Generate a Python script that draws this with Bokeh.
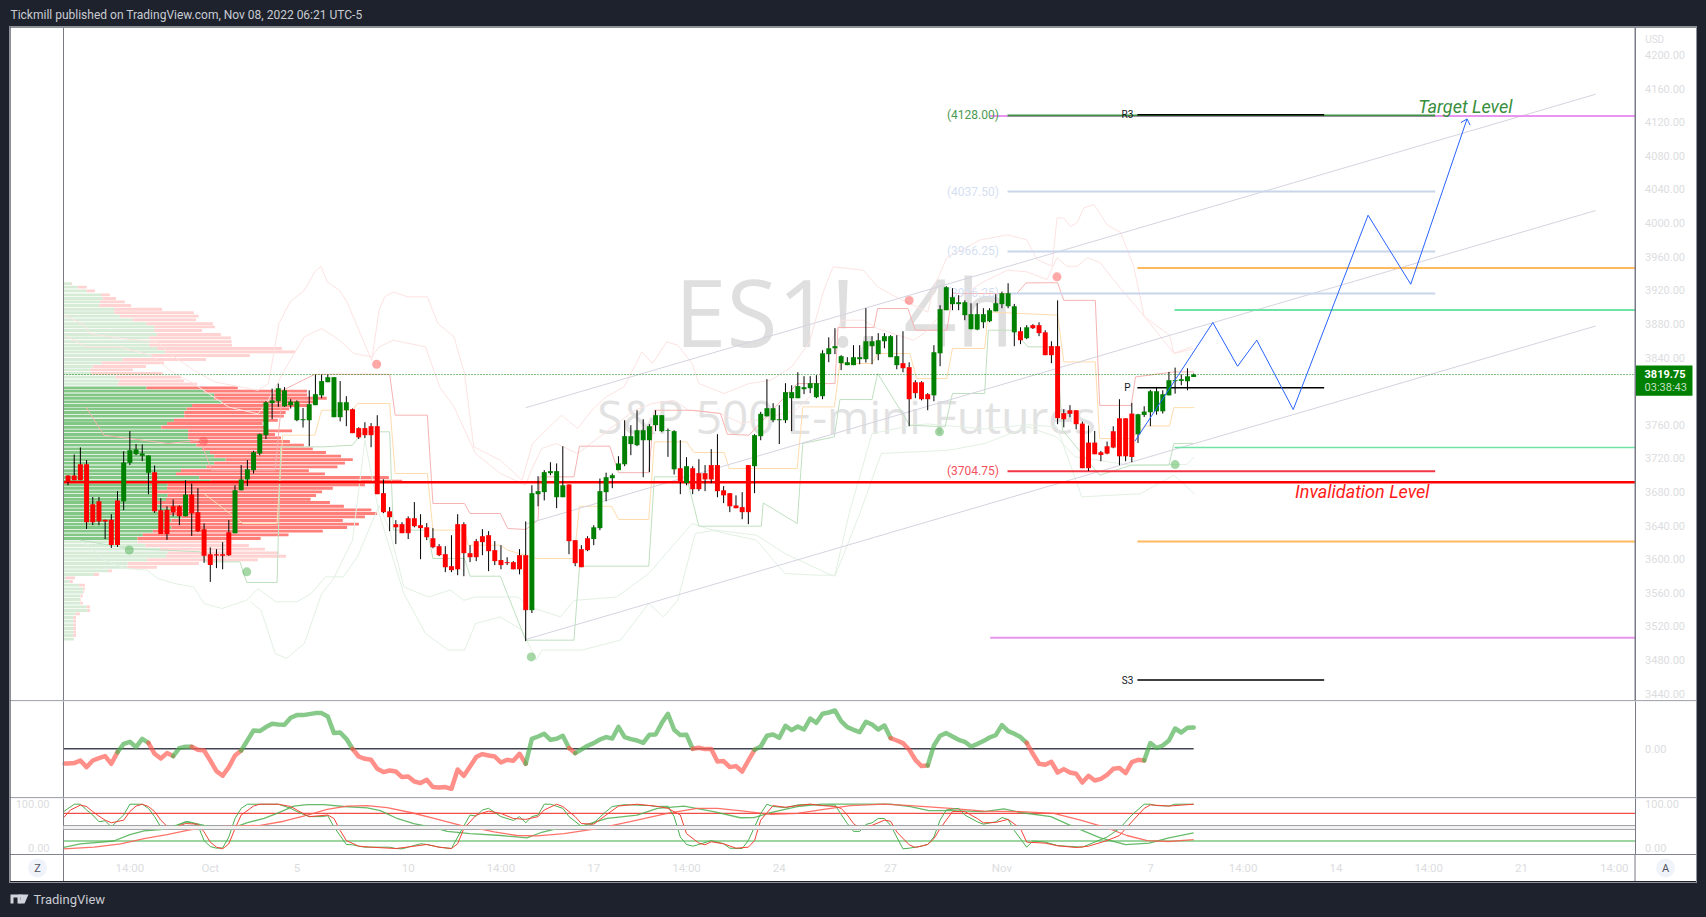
from bokeh.plotting import figure
from bokeh.layouts import column
from bokeh.models import Range1d, LinearAxis, FixedTicker, Span, NumeralTickFormatter, BoxAnnotation
from bokeh.core.properties import value
from bokeh.embed import file_html
from bokeh.resources import INLINE

# ---------- OHLC (4h bars) ----------
open_ = [3699.6,3699.6,3713,3713,3665.5,3669,3647,3647,3670,3669,3714.7,3725,3723,3702.8,3703.6,3658.4,3659,3663,3663,3651,
3677,3656,3635.8,3606,3606,3606,3632,3631,3682,3695,3706,3725.8,3747.6,3785.7,3788,3782,3783.3,3765.4,3765.4,3765.4,
3783.3,3795,3810.6,3769,3769,3777.3,3778.5,3756,3756,3758.3,3758.3,3678.6,3657,3641.7,3641.7,3648.8,3648.8,3640.5,3638,3625,
3615.5,3606,3591.7,3641.7,3641.7,3607.2,3621.5,3627.4,3628.6,3610.8,3599,3596.5,3596.5,3604.8,3604.8,3539.4,3677.4,3679.8,3702.4,3673.8,
3673.8,3689,3622.7,3612,3625,3624,3637,3679.8,3696.4,3706,3713,3737,3735.7,3741.6,3741.6,3759.5,3752.4,3752.7,3707,3708.3,
3690.5,3708.3,3702.4,3702.4,3712,3712,3682,3678.6,3664,3662,3712,3710.7,3746.4,3770,3765.4,3765.4,3765.4,3791.6,3791.6,3802.3,
3803.5,3792.8,3794,3844,3851,3833.3,3830.9,3830.9,3838,3838,3853.5,3844,3859.4,3840.4,3830.9,3833.3,3828.5,3810.6,3810.6,3796.4,
3795,3845,3896.3,3903.5,3903.5,3890.4,3873.7,3873.3,3882,3883.2,3895,3903.5,3901,3870,3871.3,3863,3878.5,3878.5,3870,3853.5,
3853.5,3773.8,3777.3,3777.3,3761.4,3738.8,3738.8,3727.3,3734.4,3752.3,3767.7,3767.7,3773.3,3748.7,3771.7,3774.9,3776,3776,3795,3811.8,
3812.2,3811.8,3816.9]
high = [3700,3724.6,3733,3718,3674,3674,3647,3653.6,3681,3728.5,3752.4,3737,3736.5,3723.4,3711.5,3672.6,3663,3671,3664,3694,
3690,3684.5,3642.5,3614,3612,3620.3,3646.5,3688,3712,3718,3729,3749.6,3788,3803,3809,3804.7,3790.4,3789,3780,3801,
3819.8,3819.8,3819.8,3816.6,3812,3794,3779.3,3757,3763,3762,3771.4,3695,3662,3646.5,3644,3651,3668,3653.6,3643,3637,
3618,3615.5,3628.6,3653.6,3644,3616.7,3624,3635.8,3633.4,3621.5,3616.7,3602.4,3597.7,3612,3645,3688,3698.8,3706,3715.4,3714,
3734.5,3689,3622.7,3616.7,3627.4,3640.5,3696,3703,3702,3722.6,3765.4,3759.5,3777.3,3766.6,3760.7,3777.3,3771.4,3755.5,3753.5,3741.6,
3721.4,3710.7,3719,3712,3731,3748.8,3687,3678.6,3676,3679.8,3712,3748.8,3775.4,3814.2,3785.7,3783.3,3809.5,3807,3822.5,3817.8,
3817.8,3819,3848.7,3864,3874.9,3842.8,3840.4,3854.7,3854.7,3898.7,3865.4,3869,3869,3866.6,3866.6,3871.3,3834.4,3813,3811.8,3797.6,
3854.7,3902.3,3924.9,3922.5,3914.2,3908,3904.6,3904.6,3898.7,3898.7,3915.4,3918.5,3928.4,3903.8,3876,3878.5,3879.7,3882,3872.5,3859.4,
3908,3778.5,3783.3,3777.3,3763.8,3759,3752.7,3728.9,3740,3758.2,3790.4,3767.7,3786,3773,3782,3801.5,3805,3801,3822.9,3828,
3820,3827.2,3820.9]
low = [3688,3694,3694,3636,3640.5,3640.5,3624,3613.5,3614.7,3658.4,3712,3723.8,3716.7,3677.4,3655.2,3630,3623,3651,3640.5,3651,
3627.8,3632.6,3595.7,3573,3589.4,3588,3604,3631,3682,3687,3702,3723.8,3743,3766.6,3781.3,3781.3,3779.3,3764.2,3756.7,3734.5,
3783.3,3791.6,3810.6,3769,3764,3758.3,3750,3743,3744,3733.3,3677.4,3654.8,3633.4,3618,3631,3624,3638,3600,3622.7,3613,
3603.6,3584.6,3584.6,3581,3579.8,3596.5,3597.7,3604.8,3585.8,3593,3588,3593,3588,3582,3502.5,3536,3663,3670,3700,3660.7,
3673.8,3606,3591.7,3590.5,3609.6,3616.7,3634.6,3669,3684.5,3706,3710.7,3723.8,3734.5,3697.6,3703.6,3752.4,3751.2,3721.8,3700.8,3677.4,
3688,3677.4,3681,3681,3690.5,3673.8,3666.7,3656,3660.7,3647.6,3641.7,3678.6,3741.6,3770,3763,3737,3762,3752.4,3791.6,3796.4,
3797.6,3791.6,3790.4,3834.4,3844,3825,3830.9,3830.9,3832,3834,3832,3836.8,3851,3840.4,3826,3822.5,3758.3,3791.6,3789,3777.3,
3788,3829.7,3896.3,3896.3,3896.3,3884.4,3873.7,3872.5,3874.9,3882,3895,3898.7,3898.7,3853.5,3855.9,3861.8,3874,3865.4,3842.8,3833.3,
3760.7,3757,3769,3754.7,3708.3,3705,3724.9,3716.6,3724.9,3732,3711.8,3716.6,3715.4,3738.4,3769.3,3758.2,3772,3773.3,3795,3797,
3807,3801,3816.9]
close = [3692,3694,3694,3644,3644,3645,3645,3617,3617,3715,3729.7,3730.5,3725.8,3723.4,3657.2,3630,3630,3656,3651,3677,
3654.8,3633.4,3604,3593,3604.4,3604,3604.8,3682,3695,3707,3727.4,3748.8,3786.8,3789,3803.5,3801,3787.6,3787.6,3766.6,3784.5,
3796.4,3812,3816.6,3816.6,3786.8,3786.8,3750,3745,3747.6,3747.6,3677.4,3656,3650,3638,3631,3631,3639.3,3637,3626.2,3614.3,
3604.8,3590.5,3587,3588,3607.2,3602.4,3602.4,3620.3,3609.6,3597.7,3593,3595.3,3588,3588,3539.4,3678.6,3681,3703.6,3704.8,3704.8,
3688,3621.5,3595.3,3590.5,3610.8,3638,3681,3697.6,3700,3714,3746.4,3746.4,3753.5,3753.5,3758.3,3771.4,3771.4,3753.5,3752.4,3691.7,
3710.7,3683.3,3683.3,3695,3695,3681,3676,3663,3660.7,3656,3656,3747.6,3773,3779.7,3779.7,3766.6,3798.8,3798.8,3806,3804.7,
3809.5,3809.5,3845,3851,3853.5,3841.6,3834.4,3840.4,3840.4,3859.4,3859.4,3860.6,3865.4,3865.4,3841.6,3827.3,3790.4,3797.6,3790.4,3790.4,
3846.3,3897.5,3923.7,3911.8,3905.8,3905.8,3891.6,3891.6,3891.6,3896.3,3904.6,3916.5,3916.5,3901,3860.6,3876,3874.9,3869,3842.8,3842.8,
3767.8,3766.6,3773,3760.7,3708.3,3708.3,3724.9,3724,3725.7,3732.9,3722.5,3722.5,3721.7,3772.5,3775.7,3799.9,3799.9,3796.3,3813,3813,
3814.2,3817.7,3819.75]
last_price = 3819.75

# ---------- volume profile rows ----------
vp_price = [3928,3923.7,3919.3,3914.6,3910.2,3906.2,3901.9,3897.5,3893.5,3889.2,3884.8,3880.4,3876.5,3872.1,3867.4,3863.4,3859,3854.7,3850.7,3846.7,
3842.4,3837.6,3833.6,3829.3,3825.3,3821,3816.6,3812.2,3808.3,3803.9,3800,3795.6,3791.6,3787.2,3782.9,3778.9,3774.6,3770.2,3765.4,3761.5,
3757.1,3752.7,3748.4,3744.4,3740.1,3735.7,3731.3,3727,3722.6,3718.6,3714.3,3709.9,3705.5,3701.6,3697.2,3692.9,3688.5,3684.5,3680.2,3675.8,
3671.4,3667.5,3663.1,3658.8,3654.4,3650.4,3646.1,3641.7,3637.7,3633.4,3629,3624.6,3620.7,3616.3,3612,3607.6,3603.6,3599.3,3594.9,3590.5,
3586.2,3581.8,3577.8,3573.5,3569.1,3564.8,3560.8,3556.4,3552.1,3547.7,3543.3,3539,3535,3530.7,3526.3,3521.9,3517.6,3513.2,3509.2,3504.9]
vp_up_raw = [200,218,243,283,288,280,278,320,320,336,372,410,432,432,440,418,420,418,440,462,
424,344,284,260,253,255,323,334,330,410,572,600,600,622,538,523,516,516,487,468,
452,527,527,527,532,550,566,588,600,632,600,578,507,493,558,590,470,468,438,470,
465,440,453,480,475,508,480,460,480,428,400,385,385,407,448,470,465,412,358,357,
303,263,185,195,222,233,233,226,224,225,243,245,212,205,205,205,205,205,205,207]
vp_all_raw = [202,243,266,308,325,350,367,454,543,556,549,596,602,566,619,647,649,650,790,826,
700,577,459,409,372,455,507,515,552,666,860,860,915,880,860,810,800,795,778,735,
745,818,770,787,812,851,876,913,955,988,966,945,865,910,1089,1126,1022,932,902,885,
870,924,963,1040,1056,1022,960,1005,972,904,808,730,651,697,742,780,801,722,557,440,
314,277,210,204,238,238,235,232,226,232,252,252,224,213,213,213,213,213,213,207]
vp_up = [g - 178 for g in vp_up_raw]
vp_down = [t - g for t, g in zip(vp_all_raw, vp_up_raw)]
va_high, va_low = 3804, 3624

# ---------- overlays (bar index, price) ----------
upper1_x = [-0.6,2.7,3.5,8.7,14.5,16.8,20.3,23.7,30.7,32.4,34.1,35.9,38.2,39.9,40.9,41.9,43.9,45.1,46.8,49.1,50.3,51.2,52.6,54.9,58.1,59.8,62.4,64.1,65.6,69.9,73.4,75.1,79.8,82.4,84.7,87,89.9,92.8,94.5,96.8,98.6,100.9,102,106.1,110.1,113.6,117,119.9,122.2,123.7,128.6,130.9,133.9,139,140,142.1,147.5,151.9,155,156.7,159.1,159.9,161,162.1,163.2,164.2,165.9,168,170.2,172.3,174,178.8,181.8]
upper1_y = [3890.4,3878.5,3868.6,3862.6,3858.6,3842.8,3825,3811,3801,3809,3880.5,3906.2,3920,3941.9,3948.7,3930,3920,3906.2,3876.5,3836.8,3896.3,3912.2,3918,3912.2,3912.2,3880.4,3864.6,3821,3733.7,3717.8,3694,3737.7,3771.4,3755.5,3777.3,3793.2,3805,3846.7,3832.9,3858.6,3854.7,3832.9,3809,3797.2,3809,3813,3828.9,3858.6,3920,3947.9,3943.9,3924,3912,3894,3924,3958.8,3980,3986,3980,3956.5,3948.7,4006,4006,3996,4000.5,4018,4022,3998,3988.7,3948.6,3889,3845,3853]
upper2_x = [-0.5,2.9,8.1,13.3,16.8,20.3,26,30.7,32.1,35.3,38.2,41,43.9,46.2,49.1,50.3,52.6,57.8,60.1,62.4,65.9,69.9,74,74.9,76.6,78.9,82.4,87,91.6,94.5,98,100.3,105.5,109,113.6,117.6,120.5,122.8,125.1,128.6,130.9,136.7,138.4,141,142.4,148,151.9,155,158.3,159.9,161.5,163.2,164.8,166.9,169,174.1,178.1,178.8,182.1]
upper2_y = [3866.6,3852.7,3852.7,3842.8,3823,3809,3781,3773,3785.3,3828.9,3864.6,3874.5,3860.6,3844.8,3840.8,3852.7,3860.6,3852.7,3805,3781.3,3725.8,3702,3688.1,3706,3731.7,3737.7,3725.8,3751.6,3777.3,3785.3,3789.2,3777.3,3773.4,3761.5,3769.4,3777.3,3797.2,3848.7,3884.4,3884.4,3874.5,3860.6,3868.6,3890.4,3904.2,3930,3944,3942,3932.7,3958.8,3948.6,3948.6,3958.8,3952.9,3932.7,3888.3,3866.5,3844.7,3850.6]
lower1_x = [2.1,4.1,5.8,9.3,12.8,14.5,17.3,20.3,22,24.9,28.9,30.7,33.6,37,39.3,41.6,44.5,46.8,50.3,52,54.3,58.3,61.8,64,65.8,72.8,74.5,76.3,79.6,81.8,88.7,93.9,100.9,103.8,111.3,115.9,122.8,124,128,131.5,142.4,148.2,155.2,159.8,162.8,171.9,178.5,180.9,182.1]
lower1_y = [3622.7,3610.8,3598.9,3589,3587,3577,3571,3567,3547.3,3541.4,3551.2,3565.2,3549.3,3549.3,3559,3579,3579,3603,3664,3634.5,3567,3555,3563.3,3551,3555,3555,3543,3539.4,3531.4,3551,3555,3583,3642.5,3635.4,3628.6,3606.8,3583,3579.8,3654,3725.8,3729.7,3737.7,3757.5,3745.6,3722,3711.8,3712.6,3712.6,3721.7]
lower2_x = [29.5,31.2,33.5,35.3,38.2,41,42.8,46,48,50.3,54.3,57.8,61.5,64.1,65.9,69.9,73.4,75.7,76.6,83,89.3,93.9,96.3,98.6,101.4,104.3,111.3,115.9,121,124,126.3,130,136.7,139,148.2,155,159.9,163.9,173.4,178.8,182.1]
lower2_y = [3549.3,3539.4,3487.8,3481.9,3499.7,3559,3575,3622.7,3741.6,3654.4,3559.2,3511.6,3491.8,3491.8,3523.5,3531.4,3515.6,3480,3491.8,3491.8,3503.7,3547.3,3531.4,3551.3,3630.6,3634,3622.7,3583,3581,3581,3654.4,3749.6,3759.5,3761,3755,3760,3757.4,3674.2,3678,3700,3678]
res_x = [2.9,5.8,16.2,21.4,23.2,33.5,34.7,39.9,52,52.9,58.1,59,64.1,65,69.9,71.1,74,76,76.3,81.8,82.7,87.6,89,93.9,94.8,100.9,105.5,106.6,110.1,117.9,124,124.5,130.3,130.9,135.8,137,142.1,143,153.4,154.9,160,161,166.1,166.8,171.9,172.6,178.8,182.1]
res_y = [3781,3747.6,3737.7,3741.6,3706,3706,3801,3820,3820,3771.4,3771.4,3666.3,3666.3,3654.4,3654.4,3636.5,3635.4,3646.5,3698,3698,3734.5,3734.5,3703,3703,3777.3,3777.3,3773.4,3748.8,3747.6,3809,3809,3875.7,3875.7,3898.3,3898.3,3872.5,3872.5,3916.1,3916.1,3928.8,3929,3908,3908,3783,3783,3816.9,3822.9,3822.9]
mid_x = [22,28.3,33.8,34.7,39.9,41,46,46.8,52,52.9,58.1,59,64.1,64.7,69.9,71.1,75.7,81.8,82.7,87.9,89,93.9,94.8,100,101.2,106.1,106.9,117.9,118.8,123.9,124.8,130,130.9,136.1,137.2,142.1,143,148.2,148.8,160,161,166.1,166.8,171.9,174.1,178.1,178.8,182.1]
mid_y = [3678,3642.5,3642.5,3747.6,3747.6,3777.3,3777.3,3785.3,3785.3,3702,3702,3634.6,3634.6,3616.7,3616.7,3610.8,3600.9,3600.9,3663,3663,3647.3,3647.3,3739.7,3739.7,3727,3727,3707.9,3707.9,3781.3,3781.3,3832.9,3832.9,3844.8,3844.8,3815,3815,3850.7,3850.7,3894.3,3890.4,3834.8,3834.8,3743.6,3743.6,3758.6,3758.6,3780.4,3780.4]
sup_x = [2,9.9,21.4,22.3,27.8,28.9,33.8,34.4,41.3,46,46.8,47.7,52,52.6,58.1,59,64.1,65,69.9,74,81.8,82.7,93.9,94.8,100,102,112.1,112.4,117.9,118.8,123.9,124.8,130,130.9,136.1,141.8,143,148.2,148.8,152.8,155.2,159.8,160.8,166.8,172,178,178.8,182]
sup_y = [3622.7,3612.7,3608.8,3596.9,3596.9,3572.3,3572.3,3733.7,3733.7,3735.7,3743.6,3751.6,3751.6,3634.6,3634.6,3600.9,3600.9,3579.8,3579.8,3503.7,3503.7,3591.7,3591.7,3698,3698,3639.3,3639.3,3667,3642.5,3737.7,3745.6,3790,3790,3821,3759.5,3757.5,3797.2,3797.2,3872.5,3872.5,3852.7,3852.7,3753.5,3700,3712,3712,3737.6,3738]
top_dot_x, top_dot_y = [21.9,49.9,136,159.9], [3740.4,3832,3908,3936]
bot_dot_x, bot_dot_y = [9.9,28.9,74.9,140.9,179], [3611,3585,3483.8,3751.6,3712.6]

# channels
chan_x = [74,247]
chan_top = [3780.3,4153.3]
chan_mid = [3641.8,4014.9]
chan_bot = [3504.5,3877.5]
# projected path
proj_x = [172.5,185.1,189.1,192.2,198.1,210.2,217.1,226.2]
proj_y = [3740.4,3881.6,3829.6,3860.6,3778.1,4009.3,3927.2,4123.9]
head_x = [225.2,226.2,226.7]
head_y = [4119.5,4123.9,4116.4]

# levels: bar-index extents, price
fib_x0, fib_x1 = 151.9, 221.05
fib_levels = [4128.0,4037.5,3966.25,3916.25,3704.75]
fib_text = ["(4128.00)","(4037.50)","(3966.25)","(3916.25)","(3704.75)"]
fib_color = ["#3f9143","#c9d5ea","#c9d5ea","#c9d5ea","#f23645"]
fib_tcolor = ["#4c9a50","#d5dff2","#d5dff2","#d5dff2","#f4515e"]
piv_x0, piv_x1 = 172.9, 203.1
pivots = [4128.8,3804,3456.2]
piv_text = ["R3","P","S3"]
edge_x = 253.36
pink_levels, pink_x0 = [4127.3,3506.5], 149.1
orange_levels, orange_x0 = [3946.6,3621], 172.9
mint_levels, mint_x0 = [3896.6,3732.8], 178.9
invalidation = 3691.7

# ---------- oscillator ----------
osc_idx = [-0.55] + list(range(183))
osc = [-14.7,-14.7,-14.3,-11.7,-18.3,-11.7,-9.3,-7.3,-15,-3.3,5,7,1.7,10,6,-5,-9.7,-4.3,-7.3,0.7,2,2,-1,-1.7,-11.7,-22.3,-27,-18.3,-6.7,-1.7,8.3,18.3,17.7,21.7,25,24.3,24,31,33.7,33.7,34.7,35.7,35.7,32.3,15.7,16.3,10,0,-7.7,-10,-11,-20,-23.3,-21.7,-22.7,-28.3,-27.7,-32.7,-34.3,-31,-38.3,-38.7,-38.3,-40,-20.7,-27,-17.7,-8.3,-5.3,-6.7,-7.7,-13.7,-11,-12,-5,-15,10,12.3,15,9,10,13,0.7,-4.3,-0.7,3,5.7,9.3,11.7,10.3,22,11.7,9.7,8.3,6,14,14.3,25.7,35,19,13.7,14,0,1,-0.3,-0.3,-12.7,-12.3,-18.3,-17.3,-22.7,-11.7,-1,2.3,13,14.3,11,23,18.7,22.3,19.3,30.3,26,35,36.3,38.3,27.7,21.7,19,16.7,27,24.3,19.3,23.3,10.7,8.3,5.7,-1,-11,-17.3,-16.7,3.3,13,15.7,12.3,9,7,2.3,4.7,7.7,11.3,13.7,23.7,17.7,15,11.7,6,-5,-15,-16,-13,-23.7,-20.3,-23.7,-25,-33.7,-27,-31.7,-30,-26,-20,-19.3,-24.3,-13.3,-11,-11.7,5.7,0.7,3.3,8.3,20.3,16.3,21,21.3]
osc_switch = [-0.55,8,13,17,20,28,46,74,81,82,101,111,133,139,155,174,182]  # colour changes, starts red

# ---------- stochastics ----------
fk_x = [-0.7,1,2,3,4,5,6,7,8,9,10,12,13,14,15,16,17,18,19,20,21,22,23,24,25,26,27,28,29,34,36,37,39,41,42,43,45,46,47,48,50,52,53,54,57,58,60,62,63,65,66,67,68,70,72,73,74,75,76,77,78,80,81,83,84,85,87,88,90,94,95,97,98,99,100,101,102,104,106,107,109,110,112,113,114,116,118,120,121,122,124,125,126,127,128,129,130,131,132,133,135,136,138,139,140,141,142,144,145,147,148,150,151,152,153,155,156,158,160,164,166,168,170,172,174,175,176,178,179,182]
fk_y = [84,100,100,87.5,76.5,62,64,50.7,64,76.5,100,100,91,73,50.7,48.5,48.5,56,62,60,54,21,8,4.4,5,28.7,69,91,100,100,91,84,73,73,75,50.7,12.5,11.8,8.8,6.6,6.6,6.6,3.7,3,14,12.5,6.6,3.7,28.7,76.5,74,87.5,91,73,64.7,73,59.6,73,76.5,100,100,91,73,52,52,59.6,84,95,99,97,95,95.6,73,28.7,12.5,8.8,12.5,21,14,4.4,3.7,21,80,100,95,92.6,98.5,100,98.5,97,98.5,78,58,41,41,56,59.6,69,69,54,3,4.4,8.8,12.5,28.7,65.4,87.5,91,76.5,61.8,56.6,61.8,71,67,43,6.6,20,17.6,10,6.6,17.6,28.7,47,76.5,100,100,97,96,100,100]
fd_x = [-0.7,0.4,2,3,4,5,6,7,9,10,11,12,13,14,15,16,17,19,21,22,23,24,25,26,27,28,30,31,34,36,38,39,42,43,44,45,47,49,53,56,58,60,62,63,64,66,68,70,72,74,76,77,79,80,82,83,85,87,89,92,95,97,99,100,102,103,104,106,108,110,111,112,114,116,118,120,122,124,125,126,127,128,130,132,133,134,136,137,139,140,141,143,145,147,148,150,152,154,155,158,160,163,165,168,170,172,174,175,178,182]
fd_y = [71,87.5,98,95,84,74,65.4,59.6,65.4,84,96,100,95,84,65.4,52,48.5,58,56.6,39.7,17.6,6.6,3,14,47,76.5,96,100,100,95,80,73,76.5,69,43,21,8.8,6.6,3.7,8.8,12.5,6.6,3.7,14,47,76.5,85,80,69,67,73,87.5,100,95,73,58,56.6,76.5,96,100,96,91,76.5,36,15.4,11.8,18.4,14,4.4,6.6,21,65.4,97,93.4,97,100,97,95,91,76.5,58,47,54,65.4,63,39.7,11.8,6,12.5,25,47,84,84,69,59.6,60.3,67,47,17.6,15.4,9.6,5.9,8.8,21,32,61.8,91,98.5,96,100]
sk_x = [-0.7,2,7.4,10,12.3,15,17,19.3,22,24.7,26.8,29,31.7,33.8,36.5,38.7,41.4,44.6,48.4,50.5,53.2,55.9,59.2,61.3,65,70,74.2,76.4,79.6,83.4,87.2,92,95.3,99.6,104.4,108.7,110.9,113.6,117.9,121.9,133,136.2,139.2,142.7,148.1,151.3,154,158.9,162.6,166.9,171,174.8,178,182]
sk_y = [6,14,20,34,42,45,52,62,54,47,49,60,69,80,96,99,99,95,92,86,69,58,49,41,36,32,27,38,48.5,54,69,76.5,91,96,84,70.6,71,81.6,95,100,100,95,86,86,84,90,82,73,50.7,27,12,15.4,27,37.5]
sd_x = [-0.7,4.2,8.5,12.3,16,19.3,22.5,25.7,31.1,34.9,38.7,41.9,45.1,48.4,51.6,55.4,59.2,63.5,65,68.9,72.6,75.9,80.2,85.6,90.9,96.9,101.7,105,109.3,113.6,117.9,122.2,126.5,131.9,136.2,142.7,148.1,154,159.4,163.7,168,171.2,174.5,178,182]
sd_y = [3,6.6,14,25,34,43,50.7,52,54,63,76.5,89,96,97,92.6,82,69,54,50.7,39.7,32,31,36,47,62,80,91,91,85,78,80,89,97,100,97,91,85,84,80,65.4,48.5,32,21,19,23]
stoch_levels = [80,53,45,20]
stoch_colors = ["#ef4d46","#5d5f66","#5d5f66","#3dae45"]

# ---------- axis text ----------
price_ticks = [3440,3480,3520,3560,3600,3640,3680,3720,3760,3840,3880,3920,3960,4000,4040,4080,4120,4160,4200]
time_ticks = [10,23,37,55,70,85,100,115,133,151,175,190,205,220,235,250]
time_labels = ["14:00","Oct","5","10","14:00","17","14:00","24","27","Nov","7","14:00","14","14:00","21","14:00"]

AXC = "#787b86"; LBL = "#dcdde0"; SEP = "#e0e3eb"; BG = "#1e222d"; FONT = "Roboto"
GUTTER = -0.73
XL, XR = -9.3, 263.3
shared_x = Range1d(XL, XR)

def pane(h, yr):
    f = figure(width=1686, height=h, x_range=shared_x, y_range=Range1d(*yr), x_axis_type=None, y_axis_type=None,
               toolbar_location=None, output_backend="svg", min_border=0, outline_line_color=None,
               margin=(0, 10, 0, 10))
    f.grid.visible = False
    f.add_layout(Span(location=GUTTER, dimension="height", line_color=AXC, line_width=1))
    return f

def side_axis(f, ticks, where="right", loc=edge_x, standoff=4, overrides=None):
    ax = LinearAxis(fixed_location=loc, ticker=FixedTicker(ticks=ticks), formatter=NumeralTickFormatter(format="0.00"),
                    major_tick_line_color=None, minor_tick_line_color=None, axis_line_color=AXC,
                    major_label_text_color=LBL, major_label_text_font=FONT, major_label_text_font_size="11px",
                    major_label_standoff=standoff, major_label_overrides=overrides or {})
    f.add_layout(ax, where)

# ---------- main pane ----------
main = pane(673, (3431.9, 4232.7))
main.extra_x_ranges = {"vol": Range1d((10-63)*2.8, (1696-63)*2.8)}
main.text([125.5], [3895], text=["ES1!, 4h"], text_font=value("Open Sans"), text_font_size="93px", text_color="#dfdfdf",
          text_align="center", text_baseline="alphabetic")
main.text([125.9], [3770], text=["S&P 500 E-mini Futures"], text_font=value("Open Sans"), text_font_size="46px", text_color="#e2e2e2",
          text_align="center", text_baseline="alphabetic")

va = [va_low <= p <= va_high for p in vp_price]
main.hbar(y=vp_price, left=0, right=vp_up, height=3.4, x_range_name="vol",
          color=["#82c785" if v else "#d6ecd7" for v in va], line_color=None)
main.hbar(y=vp_price, left=vp_up, right=[u+d for u, d in zip(vp_up, vp_down)], height=3.4, x_range_name="vol",
          color=["#ff7f7a" if v else "#ffd3d1" for v in va], line_color=None)

for xs, ys, c in [(upper1_x, upper1_y, "#fde3e2"), (upper2_x, upper2_y, "#fde3e2"),
                  (lower1_x, lower1_y, "#e2f1e3"), (lower2_x, lower2_y, "#e2f1e3"),
                  (res_x, res_y, "#f6b3b3"), (mid_x, mid_y, "#ffdcae"), (sup_x, sup_y, "#bfe0c0")]:
    main.line(xs, ys, line_color=c, line_width=1)
main.scatter(top_dot_x, top_dot_y, size=9, color="#ff5252", alpha=0.5, line_color=None)
main.scatter(bot_dot_x, bot_dot_y, size=9, color="#4caf50", alpha=0.5, line_color=None)

for ys in (chan_top, chan_mid, chan_bot):
    main.line(chan_x, ys, line_color="#d5d3e0", line_width=1)

main.segment(pink_x0, pink_levels, edge_x, pink_levels, line_color="#ea94f2", line_width=2)
main.segment(fib_x0, fib_levels, fib_x1, fib_levels, line_color=fib_color, line_width=2)
main.text([fib_x0-1.4]*5, fib_levels, text=fib_text, text_color=fib_tcolor, text_align="right", text_baseline="middle",
          text_font=value(FONT), text_font_size="12px")
main.segment(orange_x0, orange_levels, edge_x, orange_levels, line_color="#ffb95f", line_width=2)
main.segment(mint_x0, mint_levels, edge_x, mint_levels, line_color="#6fe3a6", line_width=[2, 1.5])
main.segment(piv_x0, pivots, piv_x1, pivots, line_color="#000000", line_width=1.5)
main.text([piv_x0-1.6]*3, pivots, text=piv_text, text_color="#131722", text_align="center", text_baseline="middle",
          text_font=value(FONT), text_font_size="10px")
main.segment(GUTTER, [invalidation], edge_x, [invalidation], line_color="#ff0000", line_width=2.5)

idx = list(range(len(open_)))
colors = ["#ff0000" if c < o else "#008000" for o, c in zip(open_, close)]
main.segment(idx, low, idx, high, line_color="#000000", line_width=1)
main.vbar(x=idx, bottom=[min(o, c) for o, c in zip(open_, close)], top=[max(o, c) for o, c in zip(open_, close)],
          width=0.8, color=colors, line_color=None)

main.segment(GUTTER, [last_price], edge_x, [last_price], line_color="#008000", line_width=1, line_dash="1 2")
main.line(proj_x, proj_y, line_color="#2962ff", line_width=1)
main.line(head_x, head_y, line_color="#2962ff", line_width=1)
main.text([218.3], [4139], text=["Target Level"], text_color="#388e3c", text_font=value(FONT), text_font_style="italic",
          text_font_size="18px", text_align="left", text_baseline="alphabetic")
main.text([198.4], [3680], text=["Invalidation Level"], text_color="#ff1a1a", text_font=value(FONT), text_font_style="italic",
          text_font_size="18px", text_align="left", text_baseline="alphabetic")

side_axis(main, price_ticks)
main.add_layout(Span(location=edge_x, dimension="height", line_color=AXC, line_width=1))
main.quad(left=edge_x, right=262.65, top=3830.4, bottom=3794.6, color="#008000", line_color=None)
main.text([254.9], [3820], text=["3819.75"], text_color="#ffffff", text_font=value(FONT), text_font_style="bold",
          text_font_size="11px", text_baseline="middle")
main.text([254.9], [3804], text=["03:38:43"], text_color="#c4dfc4", text_font=value(FONT), text_font_size="11px", text_baseline="middle")
main.text([255], [4219], text=["USD"], text_color=LBL, text_font=value(FONT), text_font_size="10px", text_baseline="middle")

# ---------- oscillator pane ----------
op = pane(97, (-48.7, 48.3))
op.add_layout(Span(location=47.9, dimension="width", line_color=SEP, line_width=1))
op.segment(GUTTER, [0], 182, [0], line_color="#434651", line_width=1.5)
for k in range(len(osc_switch)-1):
    a, b = osc_switch[k], osc_switch[k+1]
    xs = [x for x in osc_idx if a <= x <= b]
    ys = [v for x, v in zip(osc_idx, osc) if a <= x <= b]
    c = "#ff5a50" if k % 2 == 0 else "#4caf50"
    op.line(xs, ys, line_color=c, line_alpha=0.68, line_width=4.5, line_join="round", line_cap="round")
side_axis(op, [0])

# ---------- stochastic pane ----------
sp = pane(57, (-9.3, 114.6))
sp.add_layout(Span(location=113.6, dimension="width", line_color=SEP, line_width=1))
sp.add_layout(BoxAnnotation(left=GUTTER, right=edge_x, bottom=stoch_levels[2], top=stoch_levels[1], fill_color="#f2f2f2", fill_alpha=1, line_color=None))
sp.segment(GUTTER, stoch_levels, edge_x, stoch_levels, line_color=stoch_colors, line_width=1.1)
sp.line(sk_x, sk_y, line_color="#4caf50", line_width=1.3, line_alpha=0.85)
sp.line(sd_x, sd_y, line_color="#ff5a50", line_width=1.3, line_alpha=0.85)
sp.line(fk_x, fk_y, line_color="#4caf50", line_width=1)
sp.line(fd_x, fd_y, line_color="#f44336", line_width=1)
# the 0.00 label sits a little above its level so that the pane edge does not cut it
side_axis(sp, [4, 100], overrides={4: "0.00"})
side_axis(sp, [4, 100], where="left", loc=GUTTER, standoff=8, overrides={4: "0.00"})

# ---------- time axis row ----------
tp = pane(27, (0, 1))
tp.add_layout(Span(location=edge_x, dimension="height", line_color=AXC, line_width=1))
tax = LinearAxis(fixed_location=1, ticker=FixedTicker(ticks=time_ticks),
                 major_label_overrides=dict(zip(time_ticks, time_labels)),
                 major_tick_line_color=None, minor_tick_line_color=None, axis_line_color=AXC,
                 major_label_text_color=LBL, major_label_text_font=FONT, major_label_text_font_size="11.5px",
                 major_label_standoff=0)
tp.add_layout(tax, "below")
tp.scatter([-4.93, 258.3], [0.5, 0.5], size=19, color="#f0f3fa", line_color=None)
tp.text([-4.93, 258.3], [0.5, 0.5], text=["Z", "A"], text_color="#50535e", text_font=value(FONT), text_font_size="11px",
        text_align="center", text_baseline="middle")

# ---------- dark header and footer ----------
def strip(h):
    f = figure(width=1706, height=h, x_range=Range1d(0, 1706), y_range=Range1d(0, h), x_axis_type=None, y_axis_type=None,
               toolbar_location=None, output_backend="svg", min_border=0, outline_line_color=None,
               background_fill_color=BG, border_fill_color=BG)
    f.grid.visible = False
    return f

head = strip(27)
head.text([10], [13], text=["Tickmill published on TradingView.com, Nov 08, 2022 06:21 UTC-5"], text_color="#c9ccd3",
          text_font=value(FONT), text_font_size="12px", text_baseline="middle")
foot = strip(36)
foot.patch([10,20,20,17,17,13,13,10], [23,23,14,14,20,20,14,14], color="#d1d4dc", line_color=None)
foot.patch([18,22,22,18], [23,23,20,20], color="#d1d4dc", line_color=None)
foot.patch([21,28,24,19], [23,23,14,14], color="#d1d4dc", line_color=None)
foot.text([33], [18], text=["TradingView"], text_color="#c9ccd3", text_font=value(FONT), text_font_size="13px", text_baseline="middle")

root = column(head, main, op, sp, tp, foot, spacing=0)
html = file_html(root, INLINE)
style = ("<style>html,body{margin:0;padding:0;overflow:hidden;background:%s}"
         "body::before{content:'';position:fixed;left:9px;top:26px;width:1686px;height:855px;"
         "border:1px solid #8f929b;z-index:10;pointer-events:none}</style>") % BG
html = html.replace("</head>", style + "</head>", 1)
open("out.html", "w").write(html)
